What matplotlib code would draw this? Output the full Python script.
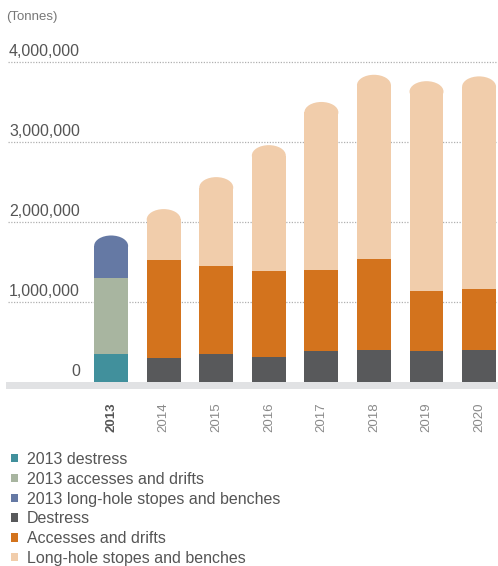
import numpy as np
import matplotlib
matplotlib.use("Agg")
import matplotlib.pyplot as plt
from matplotlib.patches import Ellipse, Patch

plt.rcParams['font.family'] = ['Liberation Sans', 'DejaVu Sans']

# ── Data (tonnes) ─────────────────────────────────────────────────────────────
years = ['2013', '2014', '2015', '2016', '2017', '2018', '2019', '2020']

destress_2013 = [350000, 0, 0, 0, 0, 0, 0, 0]
accesses_2013 = [950000, 0, 0, 0, 0, 0, 0, 0]
longhole_2013 = [530000, 0, 0, 0, 0, 0, 0, 0]
destress      = [0, 300000, 350000, 310000, 390000, 400000, 390000, 400000]
accesses      = [0, 1225000, 1100000, 1080000, 1010000, 1140000, 750000, 760000]
longhole      = [0, 635000, 1110000, 1570000, 2100000, 2300000, 2620000, 2660000]

series = [destress_2013, accesses_2013, longhole_2013, destress, accesses, longhole]
series_labels = ['2013 destress', '2013 accesses and drifts',
                 '2013 long-hole stopes and benches', 'Destress',
                 'Accesses and drifts', 'Long-hole stopes and benches']
colors = ['#41909c', '#a8b5a0', '#6579a4', '#58595b', '#d3731d', '#f1cdab']

yticks = [0, 1000000, 2000000, 3000000, 4000000]

# ── Figure ────────────────────────────────────────────────────────────────────
fig = plt.figure(figsize=(4.98, 5.66), dpi=100)
ax = fig.add_axes([6 / 498, 1 - 389 / 566, 492 / 498, 351 / 566])
ax.set_xlim(-2.0, 7.36)
ax.set_ylim(-90000, 4300000)
for s in ax.spines.values():
    s.set_visible(False)

# baseline band
ax.axhspan(-90000, 0, color='#e1e2e4', lw=0, zorder=1)

# dotted gridlines + labels above them
for v in yticks:
    if v > 0:
        ax.axhline(v, color='#b0b0b0', lw=0.9, ls=(0, (1, 1.2)),
                   xmin=0.004, zorder=0)
    ax.text(-0.59, v + 70000, f'{v:,}', ha='right', va='baseline',
            fontsize=11.5, color='#555555')

# stacked bars with rounded tops
x = np.arange(len(years))
width = 0.646
cap = 130000
vals = np.array(series, dtype=float)
totals = vals.sum(axis=0)
top_idx = [max(k for k in range(len(series)) if vals[k, i] > 0) for i in x]

bottom = np.zeros(len(years))
for k, (vals_k, col) in enumerate(zip(vals, colors)):
    h = vals_k.copy()
    for i in x:
        if top_idx[i] == k:
            h[i] -= cap
    mask = vals_k > 0
    ax.bar(x[mask], h[mask], width, bottom=bottom[mask], color=col,
           lw=0, zorder=2)
    bottom += vals_k

for i in x:
    ax.add_patch(Ellipse((i, totals[i] - cap), width, 2 * cap,
                         color=colors[top_idx[i]], lw=0, zorder=2))

ax.set_yticks([])
ax.set_xticks(x, years, rotation=90)
ax.tick_params(axis='x', length=0, pad=9.5, labelsize=9.5, labelcolor='#8a8a8a')
lbl0 = ax.get_xticklabels()[0]
lbl0.set_fontweight('bold')
lbl0.set_color('#555555')

fig.text(6 / 498, 1 - 17 / 566, '(Tonnes)', fontsize=9.5, color='#777777',
         ha='left', va='center')

handles = [Patch(color=c, lw=0) for c in colors]
fig.legend(handles, series_labels, loc='upper left',
           bbox_to_anchor=(11 / 498, 1 - 452 / 566), frameon=False,
           fontsize=11.5, labelcolor='#555555', handlelength=0.43,
           handleheight=0.43, handletextpad=0.55, labelspacing=0.3,
           borderpad=0, borderaxespad=0)

fig.savefig("out.png", dpi=100)
